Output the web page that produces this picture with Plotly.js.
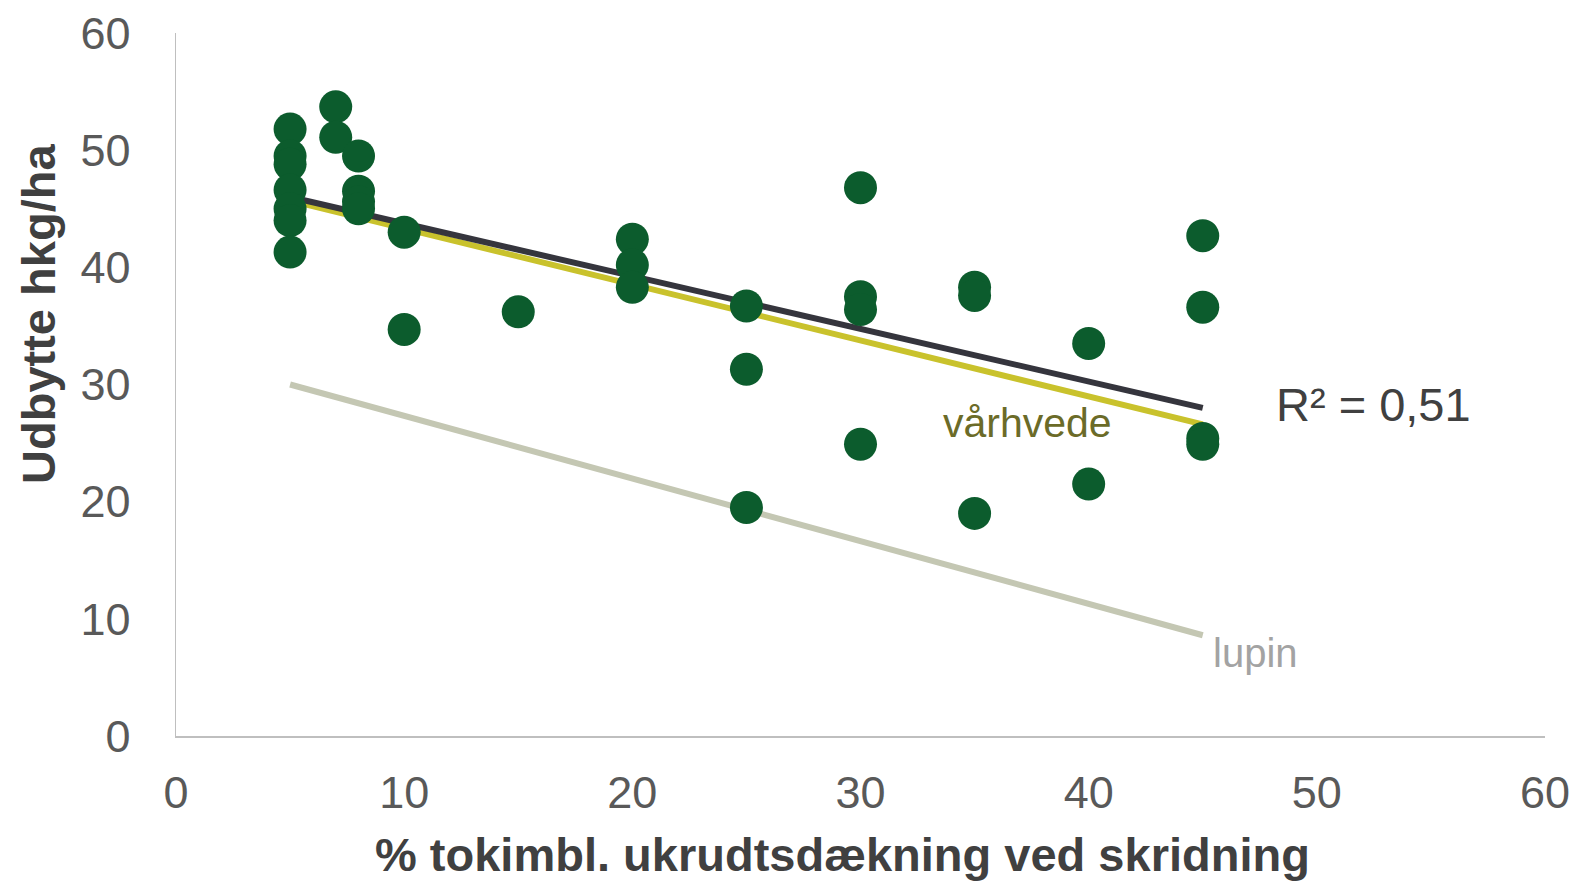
<!DOCTYPE html>
<html><head><meta charset="utf-8">
<script src="https://cdn.plot.ly/plotly-3.0.1.min.js"></script>
<style>html,body{margin:0;padding:0;background:#fff}#c{width:1578px;height:881px}</style>
</head><body><div id="c"></div>
<script>
// scatter observations
const obsX = [5,5,5,5,5,5,5, 7,7, 8,8,8,8, 10,10, 15, 20,20,20, 25,25,25, 30,30,30,30, 35,35,35, 40,40, 45,45,45,45];
const obsY = [51.8,49.5,48.8,46.6,45.0,44.0,41.3, 53.7,51.1, 49.5,46.5,45.6,45.0, 43.0,34.7, 36.2, 42.4,40.2,38.3, 36.7,31.3,19.5, 46.8,37.5,36.4,24.9, 38.3,37.6,19.0, 33.5,21.5, 42.7,36.6,25.4,24.9];
// trend lines (endpoints)
const trendX = [5, 45];
const trendAll = [46.0, 28.0];
const trendVaarhvede = [45.7, 26.6];
const trendLupin = [30.0, 8.6];
// labels
const labelTexts = ["vårhvede", "lupin", "R² = 0,51"];
const labelX = [37.3, 47.3, 52.5];
const labelY = [26.7, 7.1, 28.3];
const xTitle = "% tokimbl. ukrudtsdækning ved skridning";
const yTitle = "Udbytte hkg/ha";

const font = "Arial, 'Liberation Sans', sans-serif";
const traces = [
  {x: trendX, y: trendLupin, mode: 'lines', line: {color: '#c4c7b3', width: 6}, hoverinfo: 'skip'},
  {x: trendX, y: trendVaarhvede, mode: 'lines', line: {color: '#c9c22c', width: 6}, hoverinfo: 'skip'},
  {x: trendX, y: trendAll, mode: 'lines', line: {color: '#35353d', width: 6}, hoverinfo: 'skip'},
  {x: obsX, y: obsY, mode: 'markers', marker: {color: '#0c5c2d', size: 33}}
];

const annColors = ['#6b6b28', '#a3a3a3', '#404040'];
const annSizes = [41, 40, 47];
const annotations = labelTexts.map((t,i)=>({
  x: labelX[i], y: labelY[i], xref: 'x', yref: 'y', text: t, showarrow: false,
  font: {family: font, size: annSizes[i], color: annColors[i]}
}));
annotations.push({
  xref: 'paper', yref: 'paper', x: 0.487, y: -0.169, text: '<b>' + xTitle + '</b>', showarrow: false,
  xanchor: 'center', yanchor: 'middle', font: {family: font, size: 47, color: '#404040'}
});
annotations.push({
  xref: 'paper', yref: 'paper', x: -0.101, y: 0.600, text: '<b>' + yTitle + '</b>', showarrow: false,
  textangle: -90, xanchor: 'center', yanchor: 'middle', font: {family: font, size: 47, color: '#404040'}
});

const layout = {
  width: 1578, height: 881,
  margin: {l: 176, r: 33, t: 33, b: 145},
  paper_bgcolor: '#fff', plot_bgcolor: '#fff',
  showlegend: false,
  font: {family: font},
  xaxis: {
    range: [0, 60], tickvals: [0,10,20,30,40,50,60], showgrid: false, zeroline: false,
    showline: true, linecolor: '#bfbfbf', linewidth: 1.5, ticks: '',
    tickfont: {family: font, size: 45, color: '#595959'}, ticklabelstandoff: 16
  },
  yaxis: {
    range: [0, 60], tickvals: [0,10,20,30,40,50,60], showgrid: false, zeroline: false,
    showline: true, linecolor: '#bfbfbf', linewidth: 1.5, ticks: '',
    tickfont: {family: font, size: 45, color: '#595959'}, ticklabelstandoff: 35
  },
  annotations: annotations
};
Plotly.newPlot('c', traces, layout, {displayModeBar: false, staticPlot: true});
</script></body></html>
